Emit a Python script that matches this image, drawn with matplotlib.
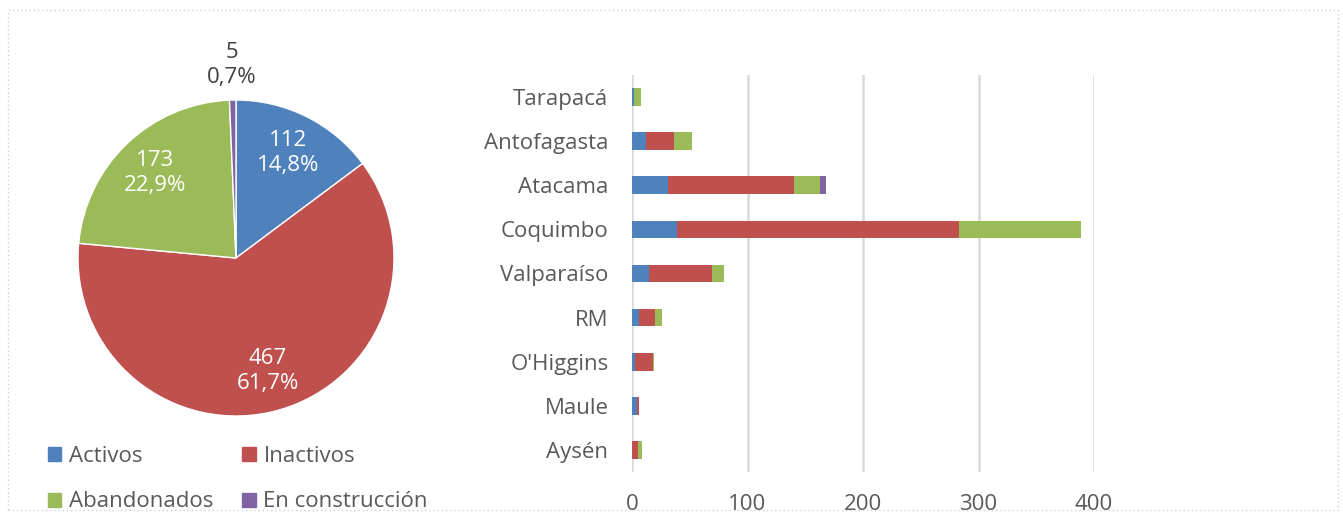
import numpy as np
import matplotlib
matplotlib.use("Agg")
from matplotlib import pyplot as plt
from matplotlib.patches import Rectangle, Patch

plt.rcParams['font.family'] = ['Open Sans', 'DejaVu Sans']

# data
series = ['Activos', 'Inactivos', 'Abandonados', 'En construcción']
colors = ['#4F81BD', '#C0504D', '#9BBB59', '#8064A2']
regions = ['Tarapacá', 'Antofagasta', 'Atacama', 'Coquimbo', 'Valparaíso',
           'RM', "O'Higgins", 'Maule', 'Aysén']
activos = [2, 12, 31, 39, 15, 6, 3, 4, 0]
inactivos = [0, 24, 109, 244, 54, 14, 15, 2, 5]
abandonados = [6, 16, 23, 106, 11, 6, 1, 0, 4]
construccion = [0, 0, 5, 0, 0, 0, 0, 0, 0]
totals = [sum(activos), sum(inactivos), sum(abandonados), sum(construccion)]

W, H = 1343, 516
fig = plt.figure(figsize=(W / 100, H / 100), dpi=100)
txt = '#595959'
fs = 16

# dotted frame
fig.patches.append(Rectangle((8 / W, 1 - 510 / H), 1330 / W, 500 / H,
                             transform=fig.transFigure, fill=False,
                             edgecolor='#D0D0D0', lw=1, ls=(0, (1, 2))))

# pie
cx, cy, r = 236, 258, 158
axp = fig.add_axes([(cx - r) / W, 1 - (cy + r) / H, 2 * r / W, 2 * r / H])
tot = sum(totals)


def fmt(pct):
    v = int(round(pct * tot / 100))
    return f"{v}\n{pct:.1f}%".replace('.', ',')


wedges, texts, autotexts = axp.pie(totals, colors=colors, startangle=90,
                                   counterclock=False, radius=1,
                                   autopct=fmt, pctdistance=0.74,
                                   wedgeprops=dict(edgecolor='white', linewidth=1),
                                   textprops=dict(color='white', fontsize=fs,
                                                  linespacing=1.25))
axp.set_xlim(-1, 1)
axp.set_ylim(-1, 1)
# outside label for the small slice
w = wedges[3]
ang = np.deg2rad((w.theta1 + w.theta2) / 2)
autotexts[3].set_position((1.22 * np.cos(ang), 1.22 * np.sin(ang)))
autotexts[3].set_color('#404040')

# legend (row-major order: Activos, Inactivos / Abandonados, En construcción)
order = [0, 2, 1, 3]
fig.legend(handles=[Patch(color=colors[i]) for i in order],
           labels=[series[i] for i in order],
           loc='upper left', bbox_to_anchor=(48 / W, 1 - 446 / H), ncol=2,
           frameon=False, fontsize=fs, handlelength=0.6, handleheight=0.6,
           handletextpad=0.35, columnspacing=1.3, labelspacing=1.1,
           borderpad=0, borderaxespad=0, labelcolor=txt)

# stacked bars
axb = fig.add_axes([632 / W, 1 - 472 / H, (1094 - 632) / W, (472 - 75) / H])
y = np.arange(len(regions))
left = np.zeros(len(regions))
for vals, c in zip([activos, inactivos, abandonados, construccion], colors):
    axb.barh(y, vals, left=left, height=0.4, color=c, zorder=3)
    left += np.array(vals)
axb.set_ylim(len(regions) - 0.5, -0.5)
axb.set_xlim(0, 400)
axb.set_xticks([0, 100, 200, 300, 400])
axb.set_yticks(y)
axb.set_yticklabels(regions)
axb.grid(axis='x', color='#D9D9D9', lw=1.8, zorder=0)
axb.tick_params(axis='x', length=0, pad=16, labelsize=fs, labelcolor=txt)
axb.tick_params(axis='y', length=0, pad=17, labelsize=fs, labelcolor=txt)
for s in axb.spines.values():
    s.set_visible(False)
axb.set_axisbelow(True)

fig.savefig('out.png', dpi=100)
